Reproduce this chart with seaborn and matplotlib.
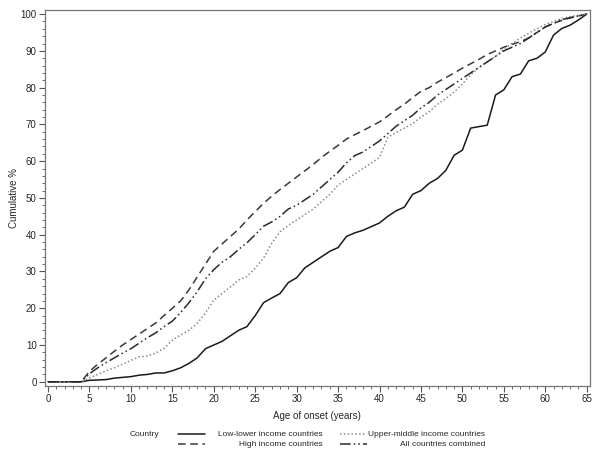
import numpy as np
import pandas as pd
import matplotlib
matplotlib.use("Agg")
import matplotlib.pyplot as plt
from matplotlib.lines import Line2D
from matplotlib.ticker import MultipleLocator
import seaborn as sns

ages = list(range(0, 66))

low_lower = [0, 0, 0, 0, 0, 0.4, 0.5, 0.6, 1.0, 1.2,
             1.4, 1.8, 2.0, 2.4, 2.4, 3.0, 3.8, 5.0, 6.5, 9.0,
             10.0, 11.0, 12.5, 14.0, 15.0, 18.0, 21.5, 22.8, 24.0, 27.0,
             28.3, 31.0, 32.5, 34.0, 35.5, 36.5, 39.5, 40.5, 41.2, 42.2,
             43.2, 45.0, 46.5, 47.5, 51.0, 52.0, 54.0, 55.3, 57.5, 61.6,
             63.0, 69.0, 69.4, 69.8, 78.0, 79.4, 83.0, 83.7, 87.3, 88.0,
             89.7, 94.3, 96.1, 97.0, 98.4, 100.0]

high = [0, 0, 0, 0, 0, 2.8, 4.8, 6.5, 8.3, 10.0,
        11.5, 13.0, 14.5, 16.0, 18.0, 20.0, 22.0, 25.0, 28.5, 32.0,
        35.5, 37.5, 39.5, 41.5, 44.0, 46.3, 48.5, 50.5, 52.3, 54.0,
        55.7, 57.4, 59.1, 61.0, 62.7, 64.3, 66.0, 67.2, 68.3, 69.5,
        70.7, 72.3, 74.0, 75.5, 77.3, 79.0, 80.0, 81.5, 82.7, 84.0,
        85.3, 86.5, 87.7, 89.0, 90.0, 91.0, 91.8, 92.5, 93.5, 95.0,
        96.5, 97.5, 98.3, 99.0, 99.5, 100.0]

upper_middle = [0, 0, 0, 0, 0, 1.0, 2.0, 3.0, 3.8, 4.8,
                5.8, 6.8, 7.0, 7.8, 9.1, 11.3, 12.7, 14.0, 15.9, 18.7,
                22.2, 24.0, 25.8, 27.7, 28.6, 30.9, 33.6, 37.7, 40.8, 42.6,
                44.0, 45.5, 47.0, 49.0, 51.0, 53.5, 55.0, 56.5, 58.0, 59.5,
                61.0, 66.5, 67.8, 69.0, 70.2, 72.0, 73.5, 75.5, 77.0, 78.8,
                81.0, 83.5, 85.5, 87.0, 88.5, 90.5, 92.0, 93.5, 94.8, 96.0,
                97.2, 98.0, 98.8, 99.3, 99.7, 100.0]

all_combined = [0, 0, 0, 0, 0, 2.2, 3.8, 5.2, 6.5, 7.8,
                9.0, 10.5, 12.0, 13.3, 15.0, 16.5, 18.8, 21.5, 24.5, 28.0,
                30.5, 32.5, 34.0, 36.0, 37.8, 40.0, 42.3, 43.5, 45.0, 47.0,
                48.0, 49.5, 51.0, 53.0, 55.0, 57.0, 59.5, 61.5, 62.5, 64.0,
                65.5, 67.5, 69.5, 71.0, 72.5, 74.5, 76.0, 78.0, 79.5, 81.0,
                82.5, 84.0, 85.5, 87.0, 88.5, 90.0, 91.0, 92.0, 93.5, 95.0,
                96.5, 97.5, 98.5, 99.0, 99.5, 100.0]

series_names = ["Low-lower income countries", "High income countries",
                "Upper-middle income countries", "All countries combined"]

frames = []
for name, vals in zip(series_names, [low_lower, high, upper_middle, all_combined]):
    frames.append(pd.DataFrame({"age": ages, "pct": vals, "Country": name}))
df = pd.concat(frames, ignore_index=True)

colors = {series_names[0]: "#1a1a1a", series_names[1]: "#3a3a3a",
          series_names[2]: "#8a8a8a", series_names[3]: "#2a2a2a"}
dashes = {series_names[0]: "", series_names[1]: (5, 3),
          series_names[2]: (1, 1.5), series_names[3]: (7, 2, 1, 2, 1, 2)}

sns.set_style("white")
plt.rcParams["font.family"] = ["Liberation Sans", "DejaVu Sans"]

fig = plt.figure(figsize=(6.02, 4.58), dpi=100)
ax = fig.add_axes([0.0748, 0.157, 0.905, 0.821])

sns.lineplot(data=df, x="age", y="pct", hue="Country", style="Country",
             palette=colors, dashes=dashes, linewidth=1.1, ax=ax, legend=False)

ax.set_xlim(-0.36, 65.38)
ax.set_ylim(-1.17, 101.1)
ax.xaxis.set_major_locator(MultipleLocator(5))
ax.xaxis.set_minor_locator(MultipleLocator(1))
ax.yaxis.set_major_locator(MultipleLocator(10))
ax.yaxis.set_minor_locator(MultipleLocator(2))
ax.tick_params(which="major", direction="out", length=4, width=0.8,
               color="#555555", labelsize=7, pad=2, bottom=True, left=True)
ax.tick_params(which="minor", direction="out", length=2.5, width=0.6,
               color="#555555", bottom=True, left=True)
for sp in ax.spines.values():
    sp.set_color("#777777")
    sp.set_linewidth(0.9)

ax.set_xlabel("Age of onset (years)", fontsize=7, labelpad=5)
ax.set_ylabel("Cumulative %", fontsize=7, labelpad=1)

# legend drawn below the axes, SAS style
fs = 6.0
fig.text(130 / 602, 1 - 434 / 458, "Country", fontsize=fs, ha="left", va="center")
rows = [(series_names[0], 434, 0), (series_names[1], 444, 0),
        (series_names[2], 434, 1), (series_names[3], 444, 1)]
for name, ypix, col in rows:
    x0 = 178 if col == 0 else 340
    xr = 323 if col == 0 else 485
    yf = 1 - ypix / 458
    ln = Line2D([x0 / 602, (x0 + 27) / 602], [yf, yf], transform=fig.transFigure,
                color=colors[name], linewidth=1.1)
    if dashes[name]:
        ln.set_dashes(dashes[name])
    fig.add_artist(ln)
    fig.text(xr / 602, yf, name, fontsize=fs, ha="right", va="center")

fig.savefig("out.png", dpi=100)
